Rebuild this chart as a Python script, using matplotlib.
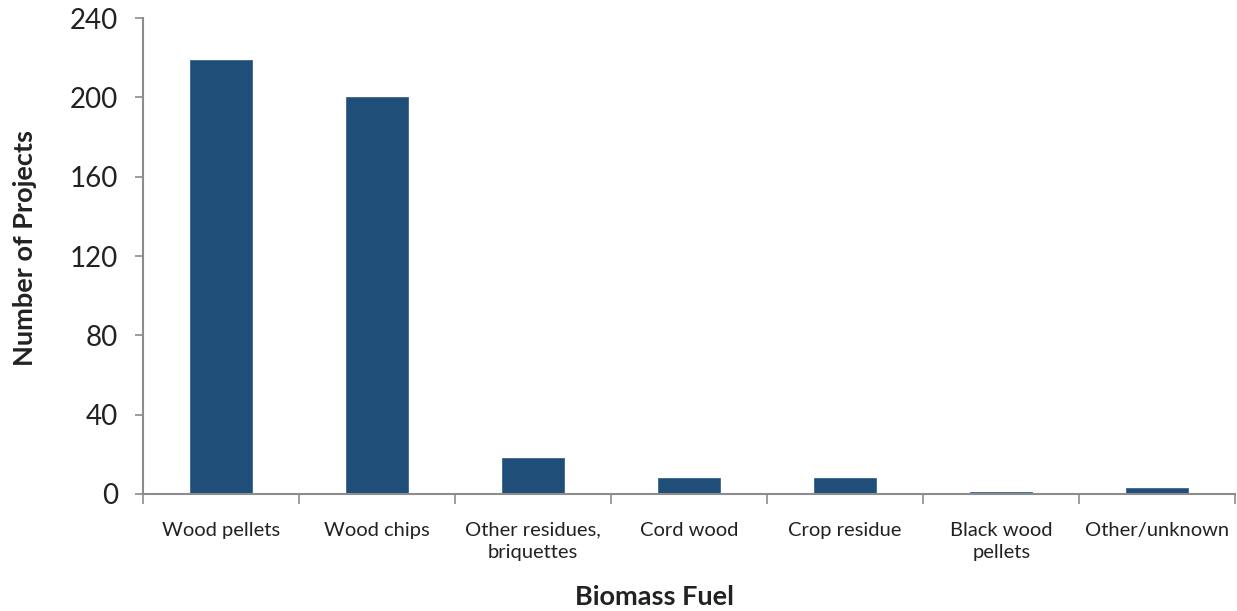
import numpy as np
import matplotlib.pyplot as plt

fuels = ['Wood pellets', 'Wood chips', 'Other residues,\nbriquettes', 'Cord wood',
         'Crop residue', 'Black wood\npellets', 'Other/unknown']
projects = [219, 200, 18, 8, 8, 1, 3]

bar_color = '#1f4e79'
axis_color = '#8c8c8c'
plt.rcParams['font.family'] = ['Lato', 'DejaVu Sans']

fig = plt.figure(figsize=(12.37, 6.11), dpi=100)
ax = fig.add_axes([0.1156, 0.1915, 0.8830, 0.7790])

x = np.arange(len(fuels))
ax.bar(x, projects, width=0.4, color=bar_color, edgecolor='#3a6690', linewidth=0.6)

ax.set_xlim(-0.5, len(fuels) - 0.5)
ax.set_ylim(0, 240)
ax.set_yticks(range(0, 241, 40))
ax.tick_params(axis='y', labelsize=20, colors=axis_color, labelcolor='#222222',
               length=6, width=1.2, pad=12)

ax.set_xticks(x)
ax.set_xticklabels(fuels, fontsize=14.5, color='#222222', linespacing=1.4, va='top')
ax.set_xticks(np.arange(-0.5, len(fuels), 1), minor=True)
ax.tick_params(axis='x', which='major', length=0, pad=20)
ax.tick_params(axis='x', which='minor', length=7, width=1.2, colors=axis_color)

for side in ['top', 'right']:
    ax.spines[side].set_visible(False)
for side in ['left', 'bottom']:
    ax.spines[side].set_color(axis_color)
    ax.spines[side].set_linewidth(1.5)

ax.set_ylabel('Number of Projects', fontsize=19.5, fontweight='bold', color='#222222')
ax.yaxis.set_label_coords(-0.108, 0.517)
ax.yaxis.label.set_va('center')
ax.set_xlabel('Biomass Fuel', fontsize=19.5, fontweight='bold', color='#222222')
ax.xaxis.set_label_coords(0.468, -0.216)
ax.xaxis.label.set_va('center')

fig.savefig('out.png', dpi=100)
